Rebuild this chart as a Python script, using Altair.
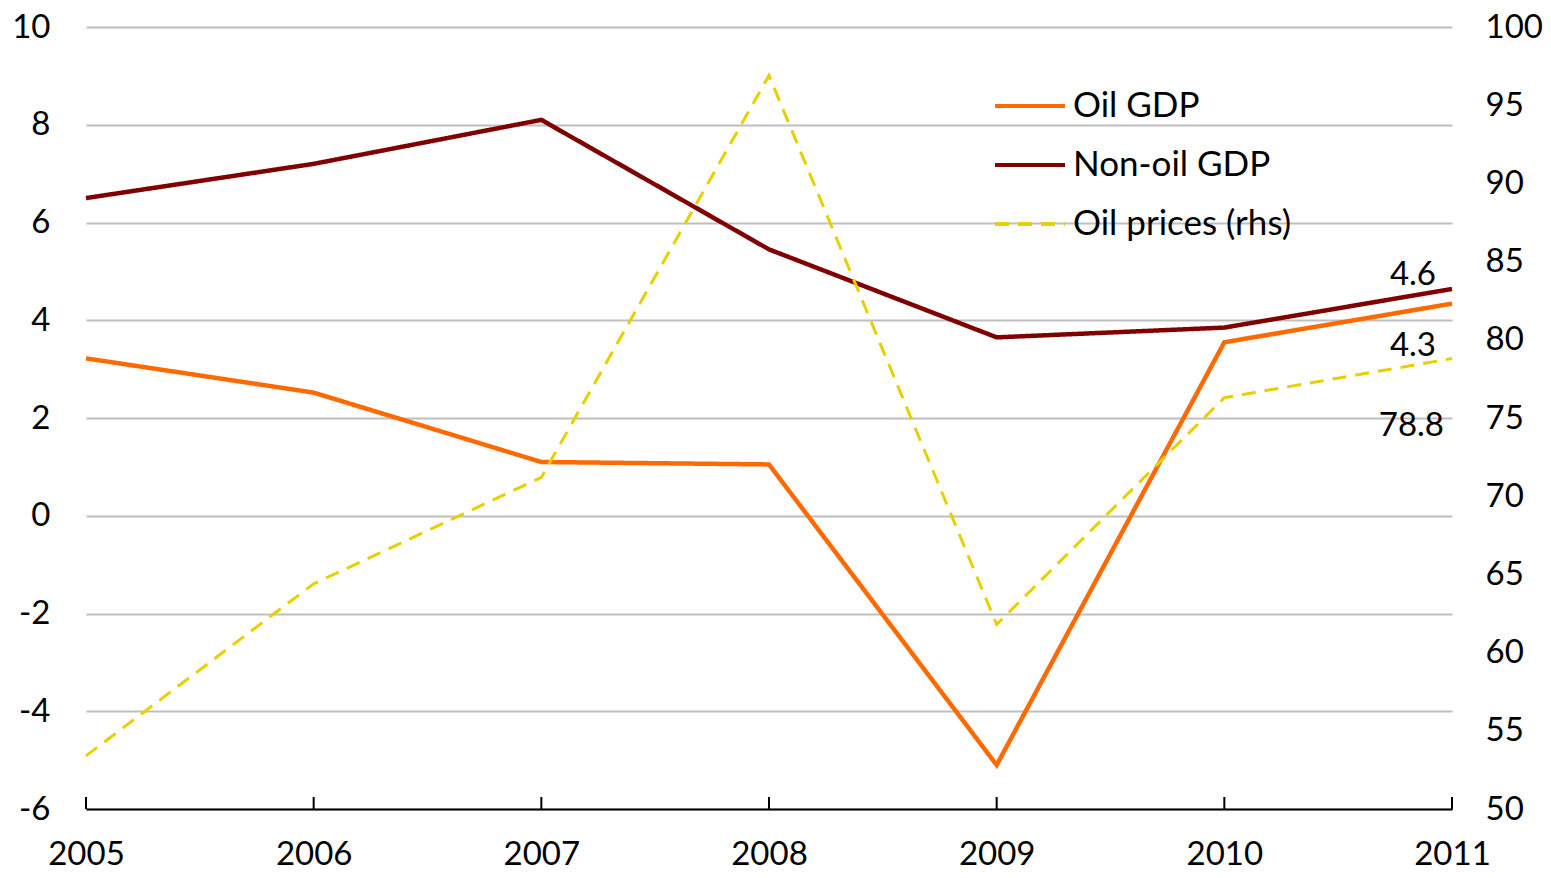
import altair as alt
import pandas as pd

years = [2005, 2006, 2007, 2008, 2009, 2010, 2011]
oil_gdp = [3.22, 2.52, 1.1, 1.05, -5.1, 3.55, 4.34]
non_oil_gdp = [6.5, 7.2, 8.1, 5.45, 3.65, 3.85, 4.64]
oil_prices = [53.4, 64.4, 71.2, 96.9, 61.8, 76.3, 78.8]

series_names = ["Oil GDP", "Non-oil GDP", "Oil prices (rhs)"]
series_colors = ["#FF6A00", "#800000", "#E8CF00"]
series_dash = [[1, 0], [1, 0], [14, 9]]
left_ticks = [-6, -4, -2, 0, 2, 4, 6, 8, 10]
right_ticks = [50, 55, 60, 65, 70, 75, 80, 85, 90, 95, 100]

FONT = "Lato"
FS = 33
LFS = 35
W, H = 1366, 782

gdp = pd.DataFrame({
    "year": years * 2,
    "value": oil_gdp + non_oil_gdp,
    "series": ["Oil GDP"] * len(years) + ["Non-oil GDP"] * len(years),
})
prices = pd.DataFrame({"year": years, "value": oil_prices, "series": "Oil prices (rhs)"})
ticks_df = pd.DataFrame({"year": years})

x_enc = alt.X("year:Q", scale=alt.Scale(domain=[years[0], years[-1]], nice=False),
              axis=alt.Axis(values=years, labelExpr="datum.value + ''", title=None, ticks=False,
                            domain=True, domainColor="#000000", domainWidth=2,
                            grid=False, labelPadding=29, labelFontSize=FS,
                            labelFont=FONT, labelColor="#000000", labelFlush=False))
y_left = alt.Y("value:Q", scale=alt.Scale(domain=[-6, 10], nice=False),
               axis=alt.Axis(values=left_ticks, labelExpr="datum.value + ''", title=None,
                             ticks=False, domain=False,
                             grid=True, gridColor="#BFBFBF", gridWidth=2,
                             labelPadding=36, labelFontSize=FS, labelFont=FONT,
                             labelColor="#000000"))
y_right = alt.Y("value:Q", scale=alt.Scale(domain=[50, 100], nice=False),
                axis=alt.Axis(values=right_ticks, labelExpr="datum.value + ''", orient="right",
                              title=None, ticks=False,
                              domain=False, grid=False, labelPadding=33,
                              labelFontSize=FS, labelFont=FONT, labelColor="#000000"))

legend_opts = dict(title=None, orient="none", legendX=907, legendY=42,
                   symbolType="stroke", symbolSize=4900, symbolStrokeWidth=4,
                   labelFontSize=LFS, labelFont=FONT, labelColor="#000000",
                   labelOffset=6, rowPadding=4, labelLimit=0)
color_enc = alt.Color("series:N", scale=alt.Scale(domain=series_names, range=series_colors),
                      legend=alt.Legend(**legend_opts))
dash_enc = alt.StrokeDash("series:N", scale=alt.Scale(domain=series_names, range=series_dash),
                          legend=alt.Legend(**legend_opts))

gdp_lines = alt.Chart(gdp).mark_line(strokeWidth=4.5).encode(
    x=x_enc, y=y_left, color=color_enc, strokeDash=dash_enc, detail="series:N")

txt = dict(font=FONT, fontSize=FS, color="#000000", align="right", baseline="middle")
non_oil_label = alt.Chart(gdp).transform_filter(
    (alt.datum.series == "Non-oil GDP") & (alt.datum.year == years[-1])
).mark_text(dx=-16, dy=-14, **txt).encode(x=x_enc, y=y_left, text=alt.Text("value:Q", format=".1f"))
oil_label = alt.Chart(gdp).transform_filter(
    (alt.datum.series == "Oil GDP") & (alt.datum.year == years[-1])
).mark_text(dx=-16, dy=42, **txt).encode(x=x_enc, y=y_left, text=alt.Text("value:Q", format=".1f"))

x_ticks = alt.Chart(ticks_df).mark_rule(color="#000000", strokeWidth=2).encode(
    x=x_enc, y=alt.value(H - 12), y2=alt.value(H))

left_layer = alt.layer(gdp_lines, non_oil_label, oil_label, x_ticks)

price_line = alt.Chart(prices).mark_line(strokeWidth=3).encode(
    x=x_enc, y=y_right, color=color_enc, strokeDash=dash_enc)
price_label = alt.Chart(prices).transform_filter(
    alt.datum.year == years[-1]
).mark_text(dx=-8, dy=67, **txt).encode(x=x_enc, y=y_right, text=alt.Text("value:Q", format=".1f"))

right_layer = alt.layer(price_line, price_label)

chart = alt.layer(left_layer, right_layer).resolve_scale(y="independent").properties(
    width=W, height=H,
    autosize=alt.AutoSizeParams(type="none"),
    padding={"left": 78, "top": 19, "right": 91, "bottom": 60},
    background="#FFFFFF",
).configure_view(stroke=None)

chart.save("out.html", embed_options={"renderer": "svg", "actions": False})
